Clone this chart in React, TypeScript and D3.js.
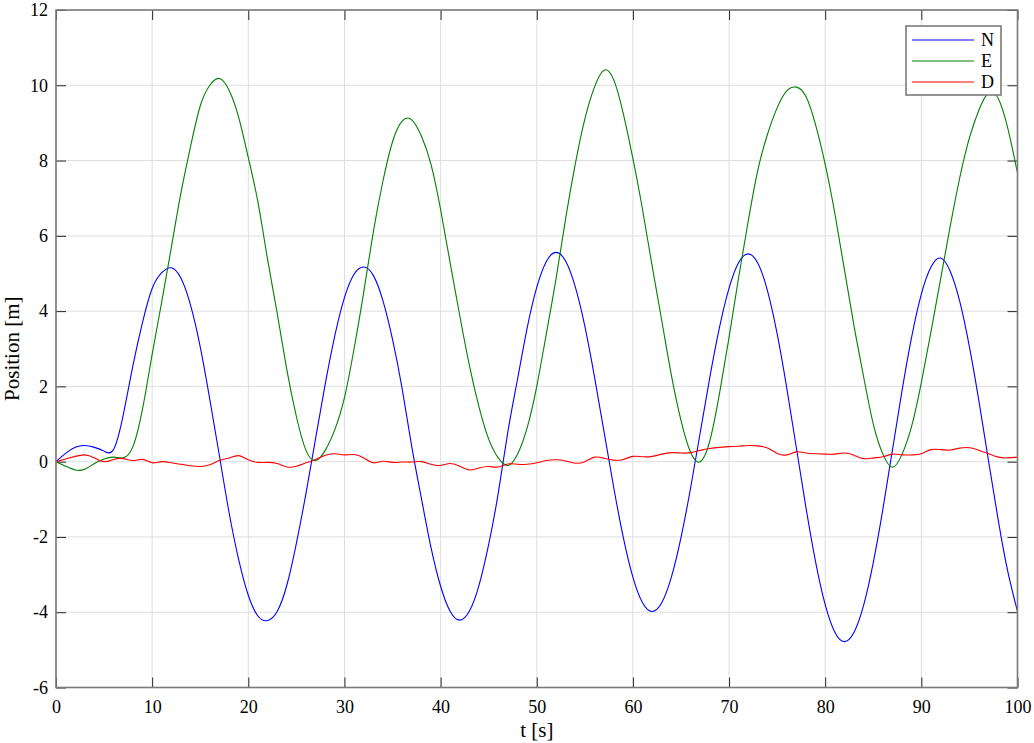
import * as d3 from "d3";
import { useEffect, useRef } from "react";

// sample times [s]
const time = d3.range(0, 101, 1);

// position north [m]
const north = [
  0, 0.22, 0.38, 0.43, 0.38, 0.28, 0.33, 1.25, 2.55, 3.7, 4.6, 5.02, 5.15,
  4.87, 4.15, 3.05, 1.65, 0.15, -1.35, -2.6, -3.55, -4.1, -4.22,
  -3.98, -3.29, -2.17, -0.84, 0.62, 2.06, 3.35, 4.36, 4.98, 5.17,
  4.95, 4.28, 3.25, 1.94, 0.4, -0.97, -2.28, -3.31, -3.98, -4.21,
  -3.97, -3.28, -2.2, -0.83, 0.8, 2.19, 3.55, 4.63, 5.32, 5.56,
  5.33, 4.65, 3.6, 2.26, 0.79, -0.68, -2.01, -3.07, -3.75, -3.98,
  -3.75, -3.07, -2.02, -0.7, 0.77, 2.24, 3.56, 4.61, 5.29, 5.52,
  5.27, 4.54, 3.4, 1.96, 0.37, -1.22, -2.66, -3.8, -4.53, -4.78,
  -4.53, -3.81, -2.68, -1.26, 0.32, 1.9, 3.32, 4.45, 5.17, 5.41,
  5.06, 4.25, 3.05, 1.59, 0.0, -1.56, -2.93, -3.98,
];

// position east [m]
const east = [
  0, -0.12, -0.22, -0.2, -0.05, 0.07, 0.12, 0.1, 0.4, 1.4, 2.85, 4.25, 5.7,
  7.15, 8.38, 9.45, 10.0, 10.18, 9.87, 9.15, 8.08, 6.9, 5.38,
  3.95, 2.45, 1.2, 0.3, 0.03, 0.3, 0.85, 1.7, 3.0, 4.5,
  6.1, 7.45, 8.5, 9.05, 9.08, 8.65, 7.9, 6.7, 5.27, 3.87,
  2.55, 1.45, 0.6, 0.1, -0.1, 0.2, 0.9, 2.0, 3.4, 4.85,
  6.45, 7.9, 9.1, 9.95, 10.4, 10.15, 9.25, 8.05, 6.7, 5.2,
  3.75, 2.3, 1.1, 0.25, 0.0, 0.55, 1.8, 3.3, 4.9, 6.4,
  7.75, 8.7, 9.4, 9.85, 9.95, 9.7, 8.95, 7.9, 6.6, 5.1,
  3.6, 2.25, 1.0, 0.2, -0.15, 0.2, 0.95, 2.1, 3.45, 4.85,
  6.25, 7.55, 8.6, 9.35, 9.8, 9.65, 8.85, 7.67,
];

// position down [m]
const down = [
  0, 0.07, 0.14, 0.18, 0.1, 0.0, 0.06, 0.08, 0.03, 0.06, -0.03, 0.0, -0.03,
  -0.07, -0.11, -0.13, -0.08, 0.03, 0.1, 0.16, 0.05, -0.02, -0.02,
  -0.05, -0.14, -0.12, -0.03, 0.06, 0.17, 0.21, 0.18, 0.19, 0.1,
  -0.03, 0.01, -0.02, -0.01, -0.01, 0.0, -0.07, -0.1, -0.05, -0.12,
  -0.22, -0.17, -0.13, -0.14, -0.06, -0.07, -0.07, -0.03, 0.03, 0.05,
  0.02, -0.04, 0.0, 0.12, 0.09, 0.04, 0.06, 0.14, 0.13, 0.14,
  0.2, 0.24, 0.23, 0.24, 0.3, 0.35, 0.38, 0.4, 0.41, 0.43,
  0.42, 0.36, 0.22, 0.18, 0.26, 0.23, 0.21, 0.2, 0.2, 0.23,
  0.17, 0.08, 0.1, 0.13, 0.2, 0.18, 0.18, 0.21, 0.32, 0.32,
  0.31, 0.36, 0.37, 0.3, 0.21, 0.12, 0.1, 0.12,
];

const seriesNames = ["N", "E", "D"];
const seriesColors = ["#0000ff", "#008000", "#ff0000"];

const xTicks = d3.range(0, 101, 10);
const yTicks = d3.range(-6, 13, 2);

function PositionChart() {
  const ref = useRef<SVGSVGElement>(null);

  useEffect(() => {
    const svg = d3.select(ref.current);
    const width = 1034;
    const height = 743;
    const margin = { top: 10, right: 16.5, bottom: 55.5, left: 56 };
    const font = "Liberation Serif, DejaVu Serif, serif";

    svg.selectAll("*").remove();

    const x = d3
      .scaleLinear()
      .domain([0, 100])
      .range([margin.left, width - margin.right]);
    const y = d3
      .scaleLinear()
      .domain([-6, 12])
      .range([height - margin.bottom, margin.top]);

    // grid
    const grid = svg.append("g");
    grid
      .selectAll("line.v")
      .data(xTicks)
      .join("line")
      .attr("x1", (d) => x(d))
      .attr("x2", (d) => x(d))
      .attr("y1", y(-6))
      .attr("y2", y(12))
      .attr("stroke", "#dedede")
      .attr("stroke-width", 1);
    grid
      .selectAll("line.h")
      .data(yTicks)
      .join("line")
      .attr("x1", x(0))
      .attr("x2", x(100))
      .attr("y1", (d) => y(d))
      .attr("y2", (d) => y(d))
      .attr("stroke", "#dedede")
      .attr("stroke-width", 1);

    const styleAxis = (g: d3.Selection<SVGGElement, unknown, null, undefined>) => {
      g.attr("font-family", font).attr("font-size", 18);
      g.select(".domain").remove();
      g.selectAll(".tick line").attr("stroke", "#262626");
      g.selectAll(".tick text").attr("fill", "#000");
    };

    const fmt = (d: d3.NumberValue) => String(d);

    svg
      .append("g")
      .attr("transform", `translate(0,${y(-6)})`)
      .call(d3.axisBottom(x).tickValues(xTicks).tickSize(-10).tickPadding(13).tickFormat(fmt))
      .call(styleAxis);
    svg
      .append("g")
      .attr("transform", `translate(${x(0)},0)`)
      .call(d3.axisLeft(y).tickValues(yTicks).tickSize(-10).tickPadding(8).tickFormat(fmt))
      .call(styleAxis);
    svg
      .append("g")
      .attr("transform", `translate(0,${y(12)})`)
      .call(d3.axisTop(x).tickValues(xTicks).tickSize(-10).tickFormat(() => ""))
      .call(styleAxis);
    svg
      .append("g")
      .attr("transform", `translate(${x(100)},0)`)
      .call(d3.axisRight(y).tickValues(yTicks).tickSize(-10).tickFormat(() => ""))
      .call(styleAxis);

    // lines
    const all = [north, east, down];
    const line = d3
      .line<number>()
      .x((_, i) => x(time[i]))
      .y((d) => y(d))
      .curve(d3.curveNatural);

    all.forEach((values, k) => {
      svg
        .append("path")
        .datum(values)
        .attr("fill", "none")
        .attr("stroke", seriesColors[k])
        .attr("stroke-width", 1.1)
        .attr("d", line);
    });

    // box
    svg
      .append("rect")
      .attr("x", x(0))
      .attr("y", y(12))
      .attr("width", x(100) - x(0))
      .attr("height", y(-6) - y(12))
      .attr("fill", "none")
      .attr("stroke", "#7a7a7a")
      .attr("stroke-width", 1.6);

    // axis labels
    svg
      .append("text")
      .attr("x", (x(0) + x(100)) / 2)
      .attr("y", 737)
      .attr("text-anchor", "middle")
      .attr("font-family", font)
      .attr("font-size", 21)
      .text("t [s]");
    svg
      .append("text")
      .attr("transform", `translate(19,${(y(-6) + y(12)) / 2}) rotate(-90)`)
      .attr("text-anchor", "middle")
      .attr("font-family", font)
      .attr("font-size", 21)
      .text("Position [m]");

    // legend
    const lg = svg.append("g").attr("transform", "translate(906,26)");
    lg.append("rect")
      .attr("width", 95)
      .attr("height", 69)
      .attr("fill", "#fff")
      .attr("stroke", "#7a7a7a")
      .attr("stroke-width", 1.6);
    seriesNames.forEach((name, k) => {
      const ly = 14 + k * 21;
      lg.append("line")
        .attr("x1", 6)
        .attr("x2", 68)
        .attr("y1", ly)
        .attr("y2", ly)
        .attr("stroke", seriesColors[k])
        .attr("stroke-width", 1.1);
      lg.append("text")
        .attr("x", 75)
        .attr("y", ly + 6)
        .attr("font-family", font)
        .attr("font-size", 18)
        .text(name);
    });
  }, []);

  return (
    <svg
      ref={ref}
      width={1034}
      height={743}
      style={{ position: "absolute", left: 0, top: 0, background: "#fff" }}
    />
  );
}

export default function App() {
  return <PositionChart />;
}
